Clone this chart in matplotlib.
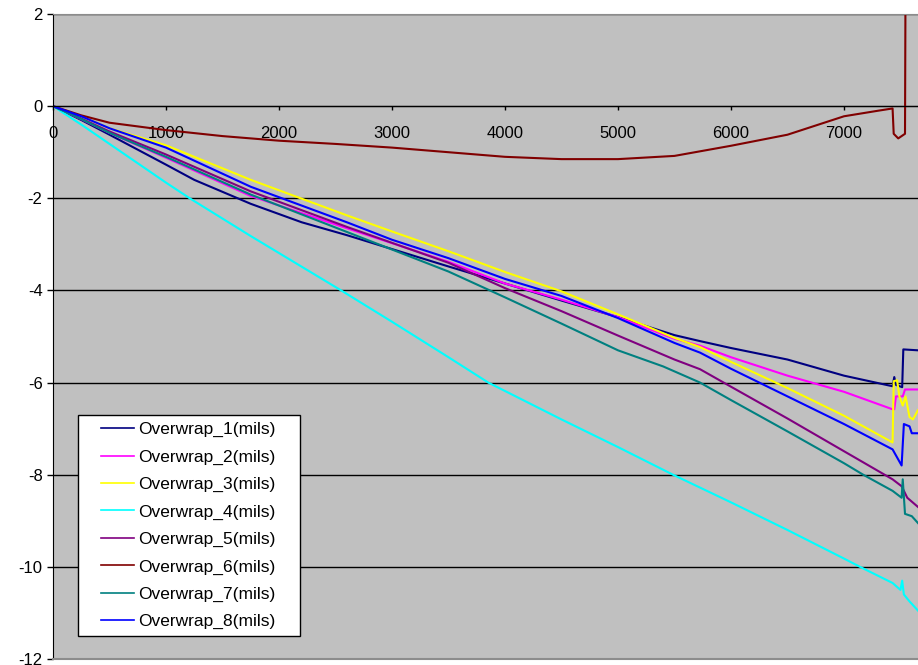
"""Overwrap displacement traces (mils) against sample number."""

import matplotlib

matplotlib.use("Agg")
import matplotlib.pyplot as plt
from matplotlib.patches import Rectangle

plt.rcParams["font.family"] = ["Liberation Sans", "DejaVu Sans"]
plt.rcParams["axes.unicode_minus"] = False

# Values.
x_1 = [0, 250, 500, 1000, 1250, 1750, 2200, 2600, 3500, 4000, 4500, 5000, 5500, 5726,
       6000, 6500, 7000, 7430, 7445, 7460, 7515, 7525, 7655]
y_1 = [0, -0.3, -0.62, -1.27, -1.6, -2.12, -2.52, -2.8, -3.48, -3.85, -4.22, -4.58,
       -4.97, -5.1, -5.25, -5.5, -5.85, -6.08, -5.88, -6.05, -6.1, -5.28, -5.3]

x_2 = [0, 250, 500, 1000, 1750, 2600, 3500, 4000, 4500, 5000, 5500, 5726, 6000,
       6500, 7000, 7430, 7445, 7460, 7520, 7540, 7655]
y_2 = [0, -0.28, -0.58, -1.12, -1.95, -2.65, -3.38, -3.85, -4.2, -4.58, -5.05, -5.2,
       -5.45, -5.85, -6.2, -6.58, -6.58, -6.3, -6.3, -6.15, -6.15]

x_3 = [0, 250, 500, 1000, 1750, 2600, 3000, 3500, 4000, 4500, 5000, 5500, 5726, 6000,
       6500, 7000, 7430, 7440, 7470, 7490, 7520, 7545, 7580, 7610, 7655]
y_3 = [0, -0.22, -0.48, -0.85, -1.6, -2.37, -2.72, -3.15, -3.6, -4.02, -4.52, -5.03,
       -5.23, -5.55, -6.12, -6.72, -7.3, -5.97, -5.95, -6.3, -6.5, -6.3, -6.75, -6.8,
       -6.6]

x_4 = [0, 250, 500, 1000, 1210, 1750, 2550, 3000, 3500, 3852, 4500, 5000, 5487,
       6000, 6500, 7000, 7142, 7430, 7500, 7515, 7530, 7580, 7655]
y_4 = [0, -0.4, -0.82, -1.66, -2.0, -2.82, -4.0, -4.68, -5.45, -6.0, -6.8, -7.4, -8.0,
       -8.6, -9.2, -9.82, -10.0, -10.35, -10.5, -10.3, -10.6, -10.75, -10.95]

x_5 = [0, 250, 500, 1000, 1750, 2600, 3500, 4000, 4500, 5000, 5500, 5726, 6000,
       6500, 7000, 7430, 7510, 7560, 7655]
y_5 = [0, -0.27, -0.55, -1.05, -1.85, -2.62, -3.4, -3.95, -4.45, -4.98, -5.5, -5.71,
       -6.09, -6.78, -7.49, -8.1, -8.25, -8.5, -8.7]

x_6 = [0, 250, 500, 1000, 1500, 2000, 2500, 3000, 3500, 4000, 4500, 5000, 5500,
       6000, 6500, 7000, 7300, 7430, 7440, 7480, 7540, 7545, 7655]
y_6 = [0, -0.2, -0.36, -0.52, -0.65, -0.75, -0.82, -0.9, -1.0, -1.1, -1.15, -1.15,
       -1.08, -0.86, -0.62, -0.22, -0.1, -0.05, -0.6, -0.7, -0.6, 3.0, 3.0]

x_7 = [0, 250, 500, 1000, 1750, 2600, 3500, 4000, 4500, 5000, 5400, 5726, 6000, 6500,
       7000, 7170, 7430, 7510, 7520, 7540, 7600, 7655]
y_7 = [0, -0.28, -0.58, -1.1, -1.92, -2.73, -3.59, -4.15, -4.72, -5.3, -5.65, -6.0,
       -6.38, -7.06, -7.75, -8.0, -8.35, -8.5, -8.1, -8.85, -8.9, -9.05]

x_8 = [0, 250, 500, 1000, 1750, 2600, 3000, 3500, 4000, 4500, 5000, 5500, 5726, 6000,
       6500, 7000, 7430, 7510, 7530, 7580, 7600, 7655]
y_8 = [0, -0.22, -0.48, -0.9, -1.75, -2.52, -2.9, -3.3, -3.75, -4.12, -4.6, -5.14,
       -5.35, -5.7, -6.3, -6.9, -7.45, -7.8, -6.9, -6.95, -7.1, -7.1]

labels = [f"Overwrap_{i}(mils)" for i in range(1, 9)]
colors = ["#000080", "#FF00FF", "#FFFF00", "#00FFFF",
          "#800080", "#800000", "#008080", "#0000FF"]
series = [(x_1, y_1), (x_2, y_2), (x_3, y_3), (x_4, y_4),
          (x_5, y_5), (x_6, y_6), (x_7, y_7), (x_8, y_8)]

x_ticks = [0, 1000, 2000, 3000, 4000, 5000, 6000, 7000]
y_ticks = [2, 0, -2, -4, -6, -8, -10, -12]

W, H = 918, 665
fig = plt.figure(figsize=(W / 100, H / 100), dpi=100)
ax = fig.add_axes([53 / W, 6 / H, 865 / W, 645 / H])
ax.set_facecolor("#C0C0C0")

handles = []
for (xs, ys), color, label in zip(series, colors, labels):
    (line,) = ax.plot(xs, ys, color=color, linewidth=1.5, label=label)
    handles.append(line)

ax.set_xlim(0, 7655)
ax.set_ylim(-12, 2)
ax.set_xticks(x_ticks)
ax.set_xticklabels([str(t) for t in x_ticks])
ax.set_yticks(y_ticks)
ax.set_yticklabels([str(t) for t in y_ticks])

ax.set_axisbelow(True)
ax.yaxis.grid(True, color="black", linewidth=1.0)
ax.xaxis.grid(False)

ax.spines["bottom"].set_position(("data", 0))
ax.spines["bottom"].set_color("black")
ax.spines["left"].set_color("black")
ax.spines["top"].set_color("#8C8C8C")
ax.spines["right"].set_visible(False)
ax.axhline(-12, color="#8C8C8C", linewidth=1.5, clip_on=False, zorder=3)

ax.tick_params(axis="x", direction="out", length=3, width=1, pad=11,
               labelsize=12, colors="black")
ax.tick_params(axis="y", direction="out", length=4.5, width=1, pad=3,
               labelsize=12, colors="black")

# Excel-style legend: white box with wide side margins.
fig.add_artist(Rectangle((78 / W, 29 / H), 222 / W, 221 / H, transform=fig.transFigure,
                         facecolor="white", edgecolor="black", linewidth=1.0, zorder=4))
leg = fig.legend(handles, labels, loc="upper left",
                 bbox_to_anchor=(101 / W, (H - 422) / H), bbox_transform=fig.transFigure,
                 frameon=False, borderpad=0, borderaxespad=0, fontsize=12.5,
                 handlelength=1.9, handletextpad=0.25, labelspacing=0.7)
leg.set_zorder(5)
for h in leg.get_lines():
    h.set_linewidth(1.2)

fig.savefig("out.png", dpi=100)
